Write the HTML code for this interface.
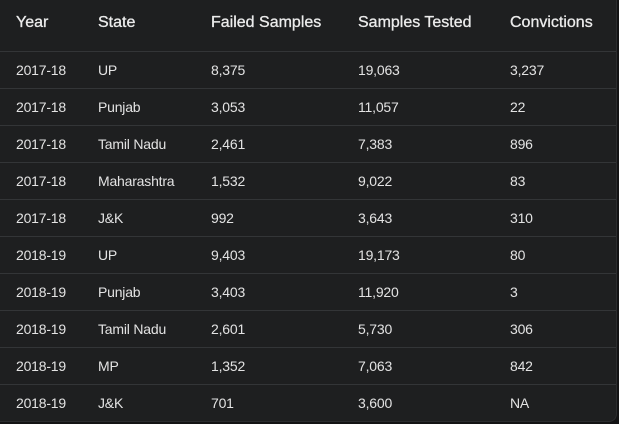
<!DOCTYPE html>
<html><head><meta charset="utf-8"><style>
html,body{margin:0;padding:0;background:#131314;width:619px;height:424px;overflow:hidden}
.wrap{position:absolute;left:0;top:0;width:616px;height:421px;background:#1e1f20;border-radius:0 0 8px 0;border-right:1px solid #2b2c2e;border-bottom:1px solid #2b2c2e;font-family:"Liberation Sans",sans-serif;color:#e3e3e3}
.row{position:absolute;left:0;width:616px;height:37px;border-top:1px solid #333537}
.row span{position:absolute;top:0;line-height:37px;font-size:14px;letter-spacing:-0.2px}
.hdr{position:absolute;left:0;top:0;width:616px;height:51px}
.hdr span{position:absolute;top:0;line-height:46px;font-size:16px;color:#ececec;-webkit-text-stroke:0.3px #ececec}
.c0{left:16px}.c1{left:98px}.c2{left:211px}.c3{left:358px}.c4{left:510px}
</style></head><body>
<div class="wrap">
<div class="hdr">
<span class="c0">Year</span>
<span class="c1">State</span>
<span class="c2">Failed Samples</span>
<span class="c3">Samples Tested</span>
<span class="c4">Convictions</span>
</div>
<div id="body"></div>
</div>
<script>
const years=["2017-18","2017-18","2017-18","2017-18","2017-18","2018-19","2018-19","2018-19","2018-19","2018-19"];
const states=["UP","Punjab","Tamil Nadu","Maharashtra","J&K","UP","Punjab","Tamil Nadu","MP","J&K"];
const failed=["8,375","3,053","2,461","1,532","992","9,403","3,403","2,601","1,352","701"];
const tested=["19,063","11,057","7,383","9,022","3,643","19,173","11,920","5,730","7,063","3,600"];
const convictions=["3,237","22","896","83","310","80","3","306","842","NA"];
const body=document.getElementById('body');
for(let i=0;i<years.length;i++){
  const r=document.createElement('div');
  r.className='row';
  r.style.top=(51+i*37)+'px';
  
  
  const vals=[years[i],states[i],failed[i],tested[i],convictions[i]];
  vals.forEach((v,j)=>{
    const s=document.createElement('span');
    s.className='c'+j;
    s.textContent=v;
    
    
    r.appendChild(s);
  });
  body.appendChild(r);
}
</script>
</body></html>
